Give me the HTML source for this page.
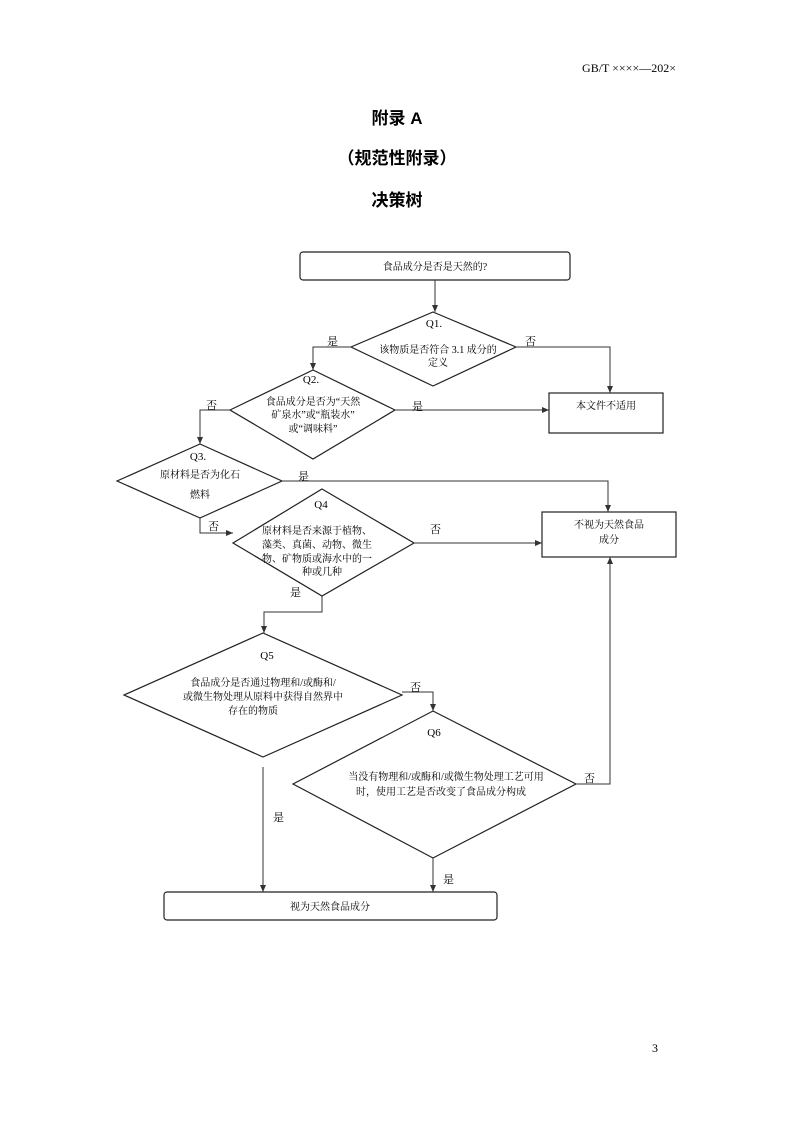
<!DOCTYPE html>
<html><head><meta charset="utf-8"><style>
html,body{margin:0;padding:0;background:#fff}
svg{display:block}
text{font-family:"Liberation Serif","Noto Serif CJK SC","Noto Sans CJK SC",serif;fill:#000}
.t{font-size:10px}
.h{font-family:"Liberation Sans","Noto Sans CJK SC",sans-serif;font-weight:bold;font-size:17px}
.l{font-size:11px}
</style></head><body>
<svg width="793" height="1122" viewBox="0 0 793 1122" xmlns="http://www.w3.org/2000/svg">
<defs><marker id="a" markerWidth="8" markerHeight="8" refX="7" refY="3" orient="auto" markerUnits="userSpaceOnUse"><path d="M0,0 L7,3 L0,6 z" fill="#333"/></marker></defs>
<text x="676" y="72" text-anchor="end" style="font-size:12px">GB/T ××××—202×</text>
<text class="h" x="397" y="124" text-anchor="middle">附录 A</text>
<text class="h" x="397" y="164" text-anchor="middle">（规范性附录）</text>
<text class="h" x="397" y="206" text-anchor="middle">决策树</text>
<text x="658" y="1052" style="font-size:12px" text-anchor="end">3</text>
<g fill="none" stroke="#222" stroke-width="1.2">
<rect x="300" y="252" width="270" height="28" rx="3"/>
<polygon points="433,312 516,347 433,386 351,347"/>
<rect x="549" y="393" width="114" height="40"/>
<polygon points="313,370 395,410 313,459 230,410"/>
<polygon points="200,444 282,481 200,518 117,481"/>
<rect x="542" y="512" width="134" height="45"/>
<polygon points="322,489 414,543 322,596 233,543"/>
<polygon points="263,633 402,695 263,757 124,695"/>
<polygon points="433,711 576,784 433,858 293,784"/>
<rect x="164" y="892" width="333" height="28" rx="3"/>
</g>
<g fill="none" stroke="#333" stroke-width="1" marker-end="url(#a)">
<path d="M435,280 V312"/>
<path d="M351,347 H313 V370"/>
<path d="M516,347 H610 V393"/>
<path d="M395,410 H549"/>
<path d="M230,410 H200 V444"/>
<path d="M282,481 H608 V512"/>
<path d="M200,518 V533 H233"/>
<path d="M414,543 H542"/>
<path d="M322,596 V612 H264 V633"/>
<path d="M402,692 H433 V711"/>
<path d="M576,784 H610 V557"/>
<path d="M433,858 V892"/>
<path d="M263,767 V892"/>
</g>
<g class="t">
<text x="435" y="270" text-anchor="middle">食品成分是否是天然的?</text>
<text x="434" y="327" text-anchor="middle" class="l">Q1.</text>
<text x="438" y="353" text-anchor="middle">该物质是否符合 3.1 成分的</text>
<text x="438" y="366" text-anchor="middle">定义</text>
<text x="606" y="409" text-anchor="middle">本文件不适用</text>
<text x="311" y="383" text-anchor="middle" class="l">Q2.</text>
<text x="313" y="405" text-anchor="middle">食品成分是否为“天然</text>
<text x="313" y="418" text-anchor="middle">矿泉水”或“瓶装水”</text>
<text x="313" y="432" text-anchor="middle">或“调味料”</text>
<text x="198" y="460" text-anchor="middle" class="l">Q3.</text>
<text x="200" y="478" text-anchor="middle">原材料是否为化石</text>
<text x="200" y="498" text-anchor="middle">燃料</text>
<text x="609" y="528" text-anchor="middle">不视为天然食品</text>
<text x="609" y="543" text-anchor="middle">成分</text>
<text x="321" y="508" text-anchor="middle" class="l">Q4</text>
<text x="262" y="534">原材料是否来源于植物、</text>
<text x="262" y="548">藻类、真菌、动物、微生</text>
<text x="262" y="562">物、矿物质或海水中的一</text>
<text x="322" y="575" text-anchor="middle">种或几种</text>
<text x="267" y="659" text-anchor="middle" class="l">Q5</text>
<text x="263" y="686" text-anchor="middle">食品成分是否通过物理和/或酶和/</text>
<text x="263" y="700" text-anchor="middle">或微生物处理从原料中获得自然界中</text>
<text x="253" y="714" text-anchor="middle">存在的物质</text>
<text x="434" y="736" text-anchor="middle" class="l">Q6</text>
<text x="446" y="780" text-anchor="middle">当没有物理和/或酶和/或微生物处理工艺可用</text>
<text x="441" y="795" text-anchor="middle">时，使用工艺是否改变了食品成分构成</text>
<text x="330" y="910" text-anchor="middle">视为天然食品成分</text>
</g>
<g class="l">
<text x="327" y="345">是</text>
<text x="525" y="345">否</text>
<text x="412" y="410">是</text>
<text x="206" y="409">否</text>
<text x="298" y="480">是</text>
<text x="208" y="530">否</text>
<text x="430" y="533">否</text>
<text x="290" y="596">是</text>
<text x="410" y="691">否</text>
<text x="584" y="782">否</text>
<text x="443" y="883">是</text>
<text x="273" y="821">是</text>
</g>
</svg>
</body></html>
